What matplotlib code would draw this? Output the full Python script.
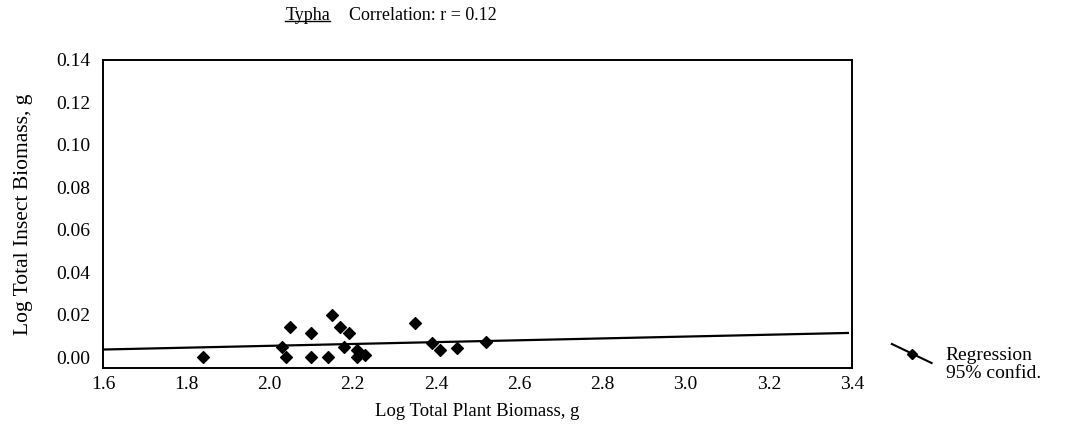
import matplotlib
matplotlib.use("Agg")
import matplotlib.pyplot as plt
from matplotlib.lines import Line2D

# Data
plant_log = [1.84, 2.03, 2.04, 2.05, 2.10, 2.10, 2.14, 2.15, 2.17, 2.18, 2.19,
             2.21, 2.21, 2.23, 2.35, 2.39, 2.41, 2.45, 2.52]
insect_log = [0.000, 0.0048, 0.000, 0.0142, 0.0113, 0.000, 0.000, 0.020, 0.0142,
              0.0048, 0.0113, 0.0035, 0.000, 0.0011, 0.0163, 0.0066, 0.0035, 0.0046, 0.0074]
reg_x = [1.6, 3.39]
reg_y = [0.0037, 0.0115]
x_ticks = [1.6, 1.8, 2.0, 2.2, 2.4, 2.6, 2.8, 3.0, 3.2, 3.4]
y_ticks = [0.00, 0.02, 0.04, 0.06, 0.08, 0.10, 0.12, 0.14]

plt.rcParams['font.family'] = ['Liberation Serif', 'DejaVu Serif']

fig = plt.figure(figsize=(10.72, 4.47), dpi=100)
ax = fig.add_axes([0.0961, 0.1767, 0.6987, 0.6891])

ax.scatter(plant_log, insect_log, marker="D", s=36, color="black", zorder=3)
ax.plot(reg_x, reg_y, color="black", linewidth=1.6, zorder=2)

ax.set_xlim(1.6, 3.4)
ax.set_ylim(-0.005, 0.14)
ax.set_xticks(x_ticks)
ax.set_xticklabels([f"{v:.1f}" for v in x_ticks], fontsize=14)
ax.set_yticks(y_ticks)
ax.set_yticklabels([f"{v:.2f}" for v in y_ticks], fontsize=14)
ax.tick_params(length=0)
ax.tick_params(axis="x", pad=6)
ax.tick_params(axis="y", pad=9)
for sp in ax.spines.values():
    sp.set_linewidth(1.4)

ax.set_xlabel("Log Total Plant Biomass, g", fontsize=13.5, labelpad=7)
ax.set_ylabel("Log Total Insect Biomass, g", fontsize=15.5, labelpad=17)

# title with underlined genus name
t1 = fig.text(0.287, 0.965, "Typha", fontsize=13, ha="center", va="center")
fig.text(0.326, 0.965, "Correlation: r = 0.12", fontsize=13, ha="left", va="center")
fig.canvas.draw()
bb = t1.get_window_extent().transformed(fig.transFigure.inverted())
fig.add_artist(Line2D([bb.x0, bb.x1], [bb.y0 + 0.008, bb.y0 + 0.008],
                      color="black", linewidth=1.0, transform=fig.transFigure))

# hand-drawn legend to the right
fig.add_artist(Line2D([0.832, 0.869], [1 - 344 / 447, 1 - 363 / 447],
                      color="black", linewidth=1.5, transform=fig.transFigure))
fig.add_artist(Line2D([0.8505], [1 - 353.5 / 447], marker="D", markersize=5,
                      color="black", transform=fig.transFigure))
fig.text(0.882, 1 - 355 / 447, "Regression", fontsize=14, ha="left", va="center")
fig.text(0.882, 1 - 374 / 447, "95% confid.", fontsize=14, ha="left", va="center")

fig.savefig("out.png", dpi=100)
